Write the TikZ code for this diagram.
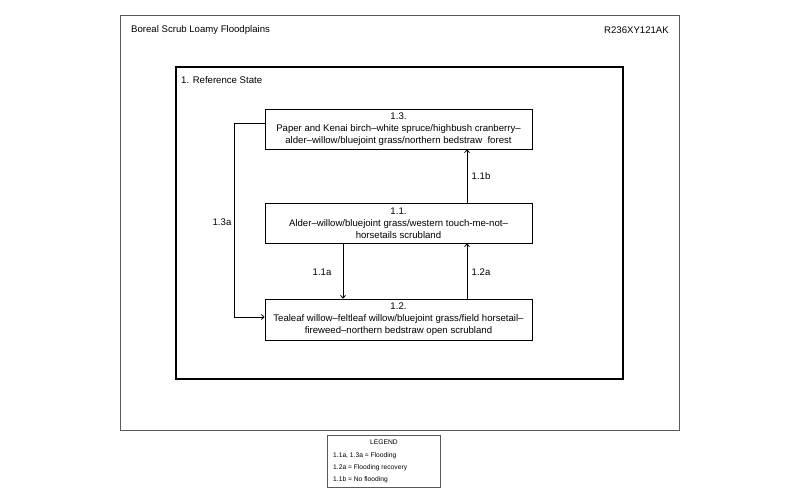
\documentclass[tikz,border=0pt]{standalone}
\usepackage{fontspec}
\setmainfont{Liberation Sans}
\usetikzlibrary{arrows, positioning, arrows.meta, calc}
\definecolor{framegray}{rgb}{0.35, 0.35, 0.35}

\begin{document}
\begin{tikzpicture}[x=1pt, y=1pt, every node/.style={font=\fontsize{9.6}{12}\selectfont}]
        \tikzstyle{statebox} = [rectangle,draw=black,line width=0.9pt, minimum width=267pt, minimum height=40pt, inner sep=0pt, align=center]
        \tikzstyle{flow} = [draw=black, line width=0.8pt, -{To[length=3.5pt,width=5.5pt]}]
        \tikzstyle{legendtext} = [anchor=west, inner sep=0pt, font=\fontsize{6.7}{8}\selectfont]

        \useasboundingbox (0,0) rectangle (800,496);

        % frames
        \draw[framegray, line width=1pt] (120,66) rectangle (679,480);
        \draw[black, line width=1.3pt] (176,117) rectangle (623,429);

        \node[anchor=west, inner sep=0pt] (site) at (131,466) {Boreal Scrub Loamy Floodplains};
        \node[anchor=east, inner sep=0pt] (code) at (669,466) {R236XY121AK};
        \node[anchor=west, inner sep=0pt] (state1) at (181,416) {1. Reference State};

        % community phases
        \node[statebox] (s13) at (398.5,367) {1.3.\\Paper and Kenai birch--white spruce/highbush cranberry--\\alder--willow/bluejoint grass/northern bedstraw\ \ forest};
        \node[statebox] (s11) at (398.5,273) {1.1.\\Alder--willow/bluejoint grass/western touch-me-not--\\horsetails scrubland};
        \node[statebox, minimum height=41pt] (s12) at (398.5,176.5) {1.2.\\Tealeaf willow--feltleaf willow/bluejoint grass/field horsetail--\\fireweed--northern bedstraw open scrubland};

        % pathways
        \draw[flow] ([xshift=-55.5pt]s11.south) -- ([xshift=-55.5pt]s12.north);
        \draw[flow] ([xshift=68.5pt]s12.north) -- ([xshift=68.5pt]s11.south);
        \draw[flow] ([xshift=68.5pt]s11.north) -- ([xshift=68.5pt]s13.south);
        \draw[flow] ([yshift=6pt]s13.west) -- ++(-30,0) |- ([yshift=2.5pt]s12.west);

        \node (l11a) at (322,224) {1.1a};
        \node (l12a) at (481,224) {1.2a};
        \node (l11b) at (481,320) {1.1b};
        \node (l13a) at (222,274) {1.3a};

        % legend
        \draw[framegray, line width=0.9pt] (327,9) rectangle (440,61);
        \node[font=\fontsize{6.7}{8}\selectfont] (legend) at (384,54) {LEGEND};
        \node[legendtext] (leg1) at (333,40) {1.1a, 1.3a = Flooding};
        \node[legendtext] (leg2) at (333,28) {1.2a = Flooding recovery};
        \node[legendtext] (leg3) at (333,16) {1.1b = No flooding};
    \end{tikzpicture}
\end{document}
